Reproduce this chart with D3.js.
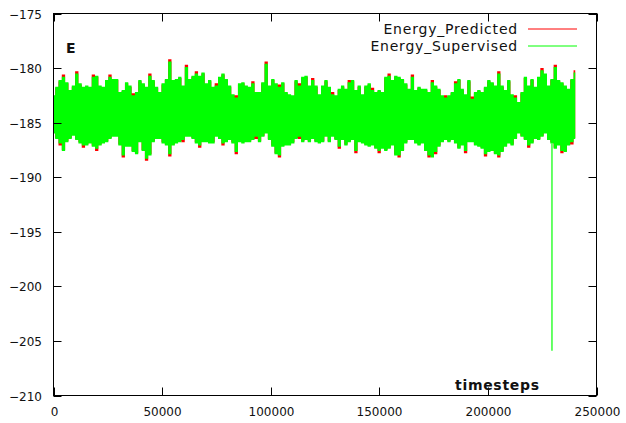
<!DOCTYPE html>
<html>
<head>
<meta charset="utf-8">
<script src="https://cdn.jsdelivr.net/npm/d3@7"></script>
<style>
    html, body { margin: 0; padding: 0; background: #fff; }
    svg { display: block; }
    text { font-family: "DejaVu Sans", sans-serif; fill: #111; }
</style>
</head>
<body>
<svg id="chart"></svg>
<script>
"use strict";

// envelope of the two series, one sample every 1530 timesteps
var sampleStep = 1530;

var supHigh = [
    -182.5,-181.7,-181.1,-180.8,-181.3,-182.0,-181.6,-180.5,-181.4,-181.7,-181.6,-181.7,-180.8,-180.7,-181.6,-181.7,-181.1,-180.8,-181.0,-181.0,
    -182.2,-182.0,-181.3,-181.6,-182.5,-182.2,-181.1,-181.4,-181.7,-180.7,-181.1,-181.7,-182.2,-181.4,-181.0,-179.4,-181.1,-181.0,-180.8,-181.6,-179.9,
    -181.0,-180.7,-180.5,-180.7,-180.4,-181.4,-181.1,-181.7,-181.6,-180.8,-180.5,-181.0,-181.6,-182.4,-182.7,-181.4,-181.3,-181.6,-181.7,-181.4,
    -182.2,-182.2,-181.3,-179.6,-181.6,-181.0,-181.4,-181.7,-181.3,-182.2,-182.4,-182.5,-181.1,-181.6,-180.8,-180.7,-181.6,-181.1,-181.6,
    -182.4,-181.6,-181.1,-181.7,-182.4,-182.5,-181.9,-181.6,-181.9,-181.3,-181.1,-182.0,-181.6,-182.4,-181.6,-181.4,-182.0,-182.2,-182.0,-182.2,
    -180.8,-180.7,-181.1,-180.7,-180.8,-181.0,-181.4,-181.9,-180.8,-182.0,-181.7,-181.9,-181.9,-182.2,-181.3,-181.6,-181.9,-182.5,-182.7,-182.5,
    -182.2,-181.4,-181.0,-181.9,-182.4,-181.1,-182.8,-182.2,-182.0,-182.2,-181.7,-181.1,-181.3,-181.6,-180.5,-181.6,-182.0,-181.1,-182.4,-182.7,
    -183.1,-182.2,-180.8,-181.6,-181.0,-181.7,-180.8,-180.2,-180.5,-181.6,-181.0,-179.9,-181.1,-181.3,-181.6,-181.9,-181.0,-180.4
];

var supLow = [
    -186.0,-186.5,-186.9,-187.6,-186.8,-186.5,-186.2,-186.6,-186.9,-187.1,-187.1,-186.9,-187.2,-187.4,-187.1,-186.9,-186.8,-186.5,-186.3,-186.3,
    -187.1,-188.0,-187.2,-187.2,-187.7,-187.9,-186.8,-187.6,-188.3,-188.0,-186.8,-186.5,-186.5,-186.9,-187.1,-187.9,-187.1,-186.9,-186.8,-186.6,-186.3,
    -186.3,-186.5,-186.9,-187.1,-186.8,-186.8,-186.9,-186.9,-186.3,-186.5,-186.9,-186.8,-186.6,-186.9,-187.7,-186.8,-186.9,-186.8,-186.8,-186.6,
    -186.3,-186.8,-186.3,-186.0,-186.6,-187.2,-187.9,-188.0,-187.2,-187.1,-187.1,-186.9,-186.5,-186.3,-186.8,-186.6,-186.8,-186.5,-186.8,
    -186.9,-186.8,-186.3,-186.8,-186.3,-186.6,-187.2,-186.6,-187.1,-186.8,-186.6,-187.6,-186.8,-186.9,-187.1,-187.2,-187.1,-187.4,-187.6,-187.4,
    -187.6,-187.4,-187.1,-188.0,-188.0,-187.6,-186.9,-186.6,-186.6,-186.9,-187.1,-186.9,-187.6,-188.0,-188.2,-187.7,-187.2,-186.8,-186.6,-186.8,
    -186.6,-186.9,-187.4,-187.1,-187.6,-186.8,-186.8,-187.1,-187.2,-187.4,-187.9,-187.7,-187.6,-187.9,-188.0,-187.7,-187.2,-186.9,-187.1,-186.5,
    -186.0,-186.3,-186.6,-187.1,-186.9,-186.5,-186.6,-186.3,-186.0,-186.6,-186.9,-187.4,-187.1,-187.6,-187.7,-187.1,-186.8,-186.5
];

// predicted runs just under the supervised one, poking out at a few spikes
var predHigh = [
    -182.6,-181.8,-181.2,-180.6,-181.4,-182.1,-181.7,-180.3,-181.5,-181.8,-181.7,-181.8,-180.6,-180.8,-181.7,-181.8,-181.2,-180.6,-181.1,-181.1,
    -182.3,-182.1,-181.4,-181.7,-182.3,-182.3,-181.2,-181.5,-181.8,-180.5,-181.2,-181.8,-182.3,-181.5,-181.1,-179.2,-181.2,-181.1,-180.9,-181.7,-179.7,
    -181.1,-180.8,-180.3,-180.8,-180.5,-181.5,-181.2,-181.8,-181.4,-180.9,-180.6,-181.1,-181.7,-182.5,-182.5,-181.5,-181.4,-181.7,-181.8,-181.2,
    -182.3,-182.3,-181.4,-179.4,-181.7,-181.1,-181.5,-181.5,-181.4,-182.3,-182.5,-182.6,-181.2,-181.4,-180.9,-180.8,-181.7,-180.9,-181.7,
    -182.5,-181.7,-181.2,-181.8,-182.2,-182.6,-182.0,-181.7,-182.0,-181.1,-181.2,-182.1,-181.7,-182.5,-181.7,-181.5,-181.8,-182.3,-182.1,-182.3,
    -180.9,-180.5,-181.2,-180.8,-180.9,-181.1,-181.5,-182.0,-180.6,-182.1,-181.8,-182.0,-182.0,-182.3,-181.1,-181.7,-182.0,-182.6,-182.5,-182.6,
    -182.3,-181.2,-181.1,-182.0,-182.5,-181.2,-182.6,-182.3,-182.1,-182.3,-181.8,-181.2,-181.4,-181.7,-180.3,-181.7,-182.1,-181.2,-182.5,-182.5,
    -183.2,-182.3,-180.9,-181.7,-181.1,-181.8,-180.9,-180.0,-180.6,-181.7,-181.1,-179.7,-181.2,-181.4,-181.7,-182.0,-181.1,-180.2
];

var predLow = [
    -185.9,-186.4,-187.1,-187.5,-186.7,-186.4,-186.1,-186.5,-186.8,-187.3,-187.0,-186.8,-187.1,-187.6,-187.0,-186.8,-186.7,-186.4,-186.2,-186.2,
    -187.0,-188.2,-187.1,-187.1,-187.6,-187.8,-186.7,-187.5,-188.5,-187.9,-186.7,-186.4,-186.4,-186.8,-187.0,-188.1,-187.0,-186.8,-186.7,-186.8,-186.2,
    -186.2,-186.4,-186.8,-187.3,-186.7,-186.7,-186.8,-186.8,-186.2,-186.4,-187.1,-186.7,-186.5,-186.8,-187.9,-186.7,-186.8,-186.7,-186.7,-186.5,
    -186.5,-186.7,-186.2,-185.9,-186.5,-187.1,-187.8,-188.2,-187.1,-187.0,-187.0,-186.8,-186.4,-186.5,-186.7,-186.5,-186.7,-186.4,-186.7,
    -186.8,-186.7,-186.2,-186.7,-186.2,-186.5,-187.4,-186.5,-187.0,-186.7,-186.5,-187.8,-186.7,-186.8,-187.0,-187.1,-187.0,-187.3,-187.8,-187.3,
    -187.5,-187.3,-187.0,-187.9,-188.2,-187.5,-186.8,-186.5,-186.5,-186.8,-187.0,-186.8,-187.5,-188.2,-188.1,-187.9,-187.1,-186.7,-186.5,-186.7,
    -186.5,-186.8,-187.3,-187.0,-187.8,-186.7,-186.7,-187.0,-187.1,-187.3,-188.1,-187.6,-187.5,-187.8,-188.2,-187.6,-187.1,-186.8,-187.0,-186.4,
    -185.9,-186.2,-186.5,-187.3,-186.8,-186.4,-186.5,-186.2,-185.9,-186.5,-186.8,-187.3,-187.0,-187.8,-187.6,-187.0,-187.0,-186.4
];

// the single deep drop of the supervised energy
var spikeSteps = [229500];
var spikeFrom = [-186.9];
var spikeTo = [-205.9];

var xTicks = [0, 50000, 100000, 150000, 200000, 250000];
var yTicks = [-175, -180, -185, -190, -195, -200, -205, -210];

var seriesNames = ['Energy_Predicted', 'Energy_Supervised'];
var seriesColors = ['#ff0000', '#00ff00'];

var width = 626, height = 423;
var plot = { left: 53.5, right: 596.5, top: 13.5, bottom: 395.5 };

var svg = d3.select('#chart').attr('width', width).attr('height', height);

var x = d3.scaleLinear().domain([0, 250000]).range([plot.left, plot.right]);
var y = d3.scaleLinear().domain([-210, -175]).range([plot.bottom, plot.top]);

function toRows(high, low) {
    return high.map((h, i) => ({ t: i * sampleStep, hi: h, lo: low[i] }));
}

var band = d3.area()
    .curve(d3.curveStep)
    .x(d => x(d.t))
    .y0(d => y(d.lo))
    .y1(d => y(d.hi));

svg.append('clipPath').attr('id', 'clip')
    .append('rect')
    .attr('x', plot.left).attr('y', plot.top)
    .attr('width', plot.right - plot.left).attr('height', plot.bottom - plot.top);

var data = svg.append('g').attr('clip-path', 'url(#clip)');

data.append('path')
    .datum(toRows(predHigh, predLow))
    .attr('fill', seriesColors[0])
    .attr('d', band);

data.append('path')
    .datum(toRows(supHigh, supLow))
    .attr('fill', seriesColors[1])
    .attr('d', band);

data.selectAll('line.spike')
    .data(spikeSteps)
    .enter().append('line')
    .attr('class', 'spike')
    .attr('x1', d => x(d)).attr('x2', d => x(d))
    .attr('y1', (d, i) => y(spikeFrom[i]))
    .attr('y2', (d, i) => y(spikeTo[i]))
    .attr('stroke', seriesColors[1])
    .attr('stroke-width', 1.2);

// frame
svg.append('rect')
    .attr('x', plot.left).attr('y', plot.top)
    .attr('width', plot.right - plot.left).attr('height', plot.bottom - plot.top)
    .attr('fill', 'none')
    .attr('stroke', '#000')
    .attr('stroke-width', 1);

// y ticks, inside on both sides
var tickLen = 8;
var yAxis = svg.append('g');
yTicks.forEach(v => {
    var py = Math.round(y(v)) + 0.5;
    yAxis.append('line').attr('x1', plot.left).attr('x2', plot.left + tickLen)
        .attr('y1', py).attr('y2', py).attr('stroke', '#000');
    yAxis.append('line').attr('x1', plot.right - tickLen).attr('x2', plot.right)
        .attr('y1', py).attr('y2', py).attr('stroke', '#000');
    yAxis.append('text')
        .attr('x', 42).attr('y', py + 4.5)
        .attr('text-anchor', 'end')
        .style('font-size', '12px')
        .text(d3.format('d')(v));
});

// x ticks, inside on top and bottom
var xAxis = svg.append('g');
xTicks.forEach(v => {
    var px = Math.round(x(v)) + 0.5;
    xAxis.append('line').attr('x1', px).attr('x2', px)
        .attr('y1', plot.bottom).attr('y2', plot.bottom - tickLen).attr('stroke', '#000');
    xAxis.append('line').attr('x1', px).attr('x2', px)
        .attr('y1', plot.top).attr('y2', plot.top + tickLen).attr('stroke', '#000');
    xAxis.append('text')
        .attr('x', px).attr('y', 416)
        .attr('text-anchor', 'middle')
        .style('font-size', '12px')
        .text(v);
});

svg.append('text')
    .attr('x', 66).attr('y', 52.5)
    .style('font-size', '14px').style('font-weight', 'bold')
    .text('E');

svg.append('text')
    .attr('x', 455).attr('y', 389.5)
    .style('font-size', '14px').style('font-weight', 'bold')
    .style('letter-spacing', '0.7px')
    .text('timesteps');

// legend, lines sit between pixel rows so they come out soft like the original
var legend = svg.append('g');
seriesNames.forEach((name, i) => {
    var ly = 29 + i * 17;
    legend.append('text')
        .attr('x', 518).attr('y', ly + 5)
        .attr('text-anchor', 'end')
        .style('font-size', '14px')
        .style('letter-spacing', '0.8px')
        .text(name);
    legend.append('line')
        .attr('x1', 528).attr('x2', 577)
        .attr('y1', ly).attr('y2', ly)
        .attr('stroke', seriesColors[i]);
});
</script>
</body>
</html>
